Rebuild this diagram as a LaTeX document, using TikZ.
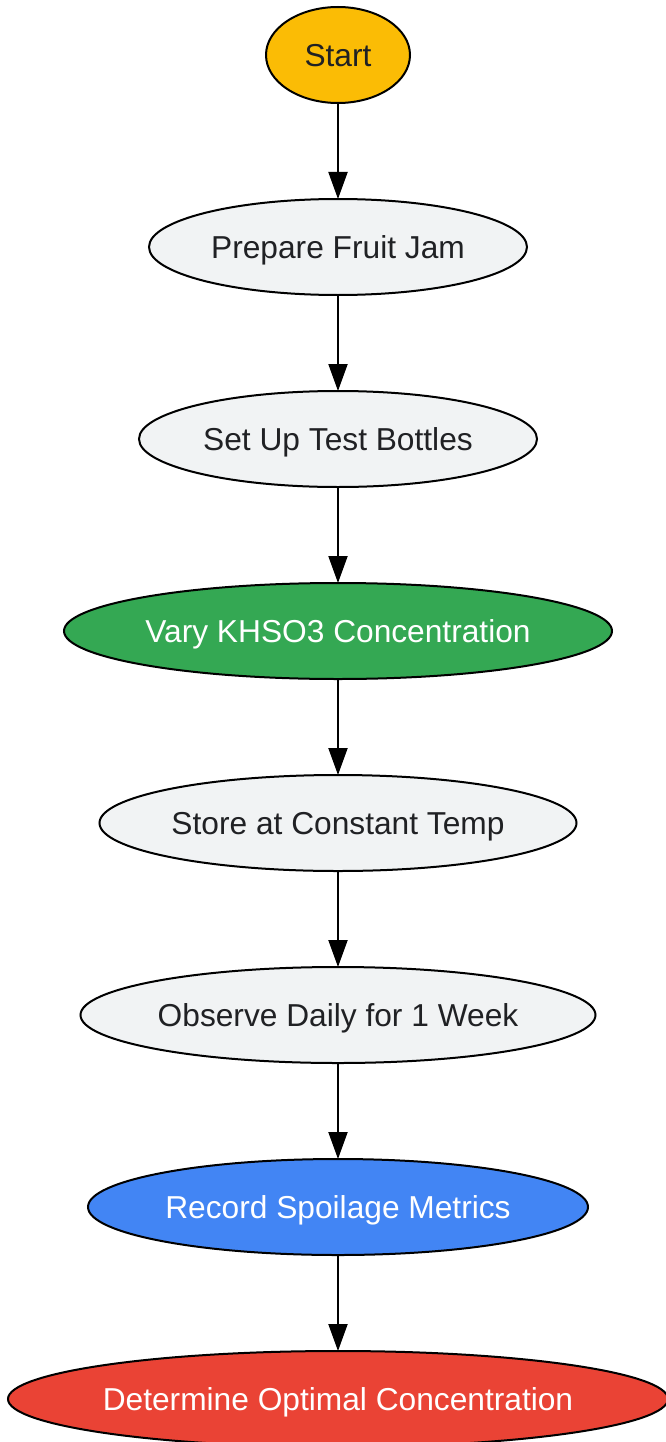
\documentclass[tikz,border=0pt]{standalone}
\usepackage{fontspec}
\setmainfont{Liberation Sans}
\usetikzlibrary{positioning}
\usetikzlibrary{shapes,arrows.meta}
\definecolor{ink}{HTML}{202124}
\definecolor{pale}{HTML}{F1F3F4}
\definecolor{gold}{HTML}{FBBC05}
\definecolor{leaf}{HTML}{34A853}
\definecolor{sky}{HTML}{4285F4}
\definecolor{brick}{HTML}{EA4335}
\tikzset{
	-{Triangle[length=27pt,width=19pt]},
	x=1pt, y=1pt,
	node distance = 96pt,
	every path/.style={line width=2pt},
	every node/.style={font=\fontsize{31.7}{38}\selectfont, outer sep=0pt, inner sep=0pt, text height=22.7pt, text depth=0pt},
	stage/.style ={ellipse, draw, fill=pale, text=ink, minimum height=96pt},
	lit/.style = {stage, text=white}
}

\begin{document}
\begin{tikzpicture}
	\useasboundingbox (0,0) rectangle (665,-1442);
	% Steps
	\node (start) at (338,-55) [stage, fill=gold, minimum width=144pt] {Start};
	\node (jam) [below = of start, stage, minimum width=378pt] {Prepare Fruit Jam};
	\node (bottles) [below = of jam, stage, minimum width=398pt] {Set Up Test Bottles};
	\node (khso) [below = of bottles, lit, fill=leaf, minimum width=548pt] {Vary KHSO3 Concentration};
	\node (temp) [below = of khso, stage, minimum width=477pt] {Store at Constant Temp};
	\node (daily) [below = of temp, stage, minimum width=515pt] {Observe Daily for 1 Week};
	\node (metrics) [below = of daily, lit, fill=sky, minimum width=500pt] {Record Spoilage Metrics};
	\node (optimal) [below = of metrics, lit, fill=brick, inner xsep=-4pt, minimum width=660pt] {Determine Optimal Concentration};

	\path (start) edge (jam);
	\path (jam) edge (bottles);
	\path (bottles) edge (khso);
	\path (khso) edge (temp);
	\path (temp) edge (daily);
	\path (daily) edge (metrics);
	\path (metrics) edge (optimal);
\end{tikzpicture}
\end{document}
